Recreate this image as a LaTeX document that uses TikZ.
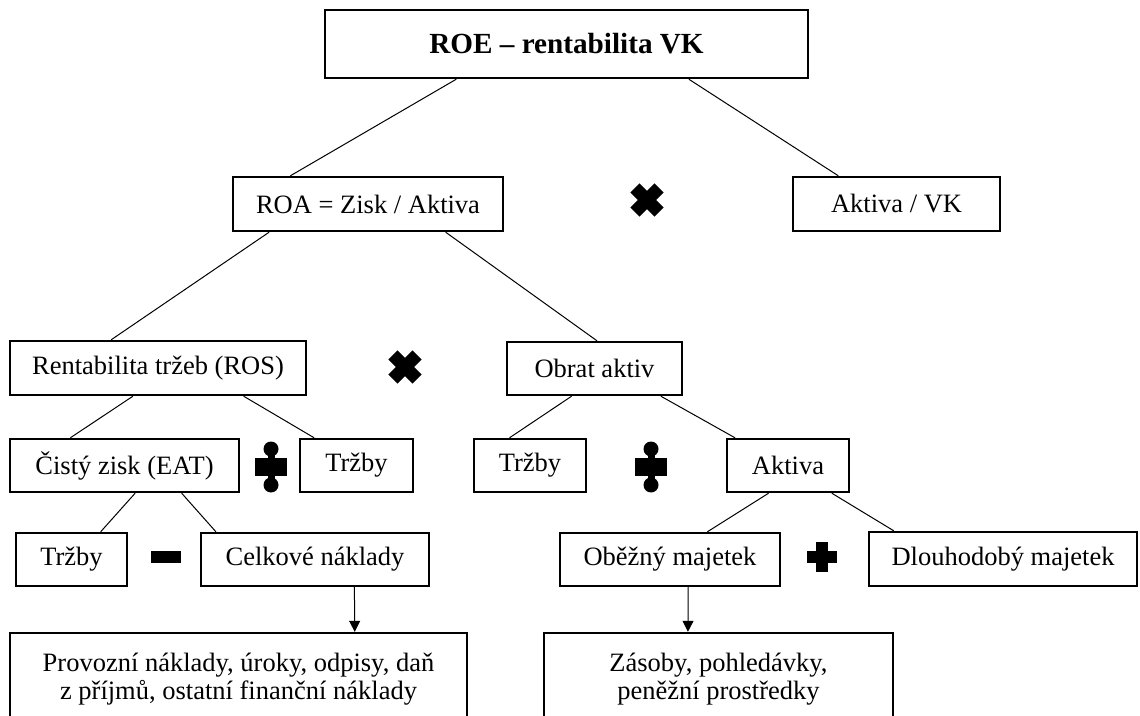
\documentclass[tikz,border=0pt]{standalone}
\usepackage{fontspec}
\setmainfont{Liberation Serif}
\usetikzlibrary{calc}
\usetikzlibrary{arrows.meta}

\tikzset{
    box/.style={draw, line width=1.2pt, inner sep=0pt, minimum height=26.5pt,
            align=center, font=\fontsize{13.25}{14}\selectfont},
    link/.style={line width=0.5pt},
    pointer/.style={line width=0.5pt, -{Triangle[length=5.5pt,width=5.5pt]}},
    times/.pic={
            \fill[rotate=45] (-17,-6.5) rectangle (17,6.5);
            \fill[rotate=-45] (-17,-6.5) rectangle (17,6.5);
        },
    plus/.pic={
            \fill (-15,-6) rectangle (15,6);
            \fill (-6,-15) rectangle (6,15);
        },
    minus/.pic={
            \fill (-15,-6) rectangle (15,6);
        },
    divide/.pic={
            \fill (-16,-9) rectangle (16,9);
            \fill (-3.5,-17) rectangle (3.5,17);
            \fill (0,-18) circle (7.5);
            \fill (0,18) circle (7.5);
        },
}

\begin{document}
\begin{tikzpicture}[x=0.5pt, y=-0.5pt]
        \useasboundingbox (0,0) rectangle (1140,716);
        \clip (0,0) rectangle (1140,716);

        % top level
        \node[box, minimum width=241.5pt, minimum height=34pt,
            font=\fontsize{14.6}{16}\selectfont\bfseries] (roe) at (566.5,44) {ROE – rentabilita VK};
        \node[box, minimum width=135pt, minimum height=27pt] (roa) at (368,204) {ROA = Zisk / Aktiva};
        \node[box, minimum width=103.5pt, minimum height=27pt] (aktvk) at (896.5,204) {Aktiva / VK};

        % second level
        \node[box, minimum width=148pt, minimum height=27pt] (ros) at (158,368) {Rentabilita tržeb (ROS)};
        \node[box, minimum width=87.5pt] (obrat) at (594.5,368.5) {Obrat aktiv};

        % third level
        \node[box, minimum width=114.5pt] (eat) at (124.5,465.5) {Čistý zisk (EAT)};
        \node[box, minimum width=56.5pt] (trzbyA) at (356.5,465.5) {Tržby};
        \node[box, minimum width=56pt] (trzbyB) at (530,465.5) {Tržby};
        \node[box, minimum width=61pt] (aktiva) at (788,465.5) {Aktiva};

        % fourth level
        \node[box, minimum width=55.5pt] (trzbyC) at (71.5,559.5) {Tržby};
        \node[box, minimum width=114pt] (naklady) at (315,559.5) {Celkové náklady};
        \node[box, minimum width=110pt] (obezny) at (670,559.5) {Oběžný majetek};
        \node[box, minimum width=134pt, minimum height=27pt] (dlouhodoby) at (1003,559) {Dlouhodobý majetek};

        % bottom boxes
        \node[box, minimum width=228.5pt, minimum height=46pt] (provozni) at (238.5,679)
            {Provozní náklady, úroky, odpisy, daň\\z příjmů, ostatní finanční náklady};
        \node[box, minimum width=174.5pt, minimum height=46pt] (zasoby) at (718.5,679)
            {Zásoby, pohledávky,\\peněžní prostředky};

        % operators
        \pic at (647,200) {times};
        \pic at (405,367) {times};
        \pic at (271,467) {divide};
        \pic at (651,467) {divide};
        \pic at (166,557) {minus};
        \pic at (822,557) {plus};

        % connectors
        \draw[link] ($(roe.south west)!.273!(roe.south east)$) -- ($(roa.north west)!.215!(roa.north east)$);
        \draw[link] ($(roe.south west)!.752!(roe.south east)$) -- ($(aktvk.north west)!.222!(aktvk.north east)$);
        \draw[link] ($(roa.south west)!.137!(roa.south east)$) -- ($(ros.north west)!.343!(ros.north east)$);
        \draw[link] ($(roa.south west)!.785!(roa.south east)$) -- ($(obrat.north west)!.514!(obrat.north east)$);
        \draw[link] ($(ros.south west)!.416!(ros.south east)$) -- ($(eat.north west)!.266!(eat.north east)$);
        \draw[link] ($(ros.south west)!.787!(ros.south east)$) -- ($(trzbyA.north west)!.133!(trzbyA.north east)$);
        \draw[link] ($(obrat.south west)!.371!(obrat.south east)$) -- ($(trzbyB.north west)!.321!(trzbyB.north east)$);
        \draw[link] ($(obrat.south west)!.874!(obrat.south east)$) -- ($(aktiva.north west)!.074!(aktiva.north east)$);
        \draw[link] ($(eat.south west)!.546!(eat.south east)$) -- ($(trzbyC.north west)!.757!(trzbyC.north east)$);
        \draw[link] ($(eat.south west)!.747!(eat.south east)$) -- ($(naklady.north west)!.070!(naklady.north east)$);
        \draw[link] ($(aktiva.south west)!.344!(aktiva.south east)$) -- ($(obezny.north west)!.668!(obezny.north east)$);
        \draw[link] ($(aktiva.south west)!.852!(aktiva.south east)$) -- ($(dlouhodoby.north west)!.096!(dlouhodoby.north east)$);
        \draw[pointer] ($(naklady.south west)!.671!(naklady.south east)$) -- ($(provozni.north west)!.753!(provozni.north east)$);
        \draw[pointer] ($(obezny.south west)!.582!(obezny.south east)$) -- ($(zasoby.north west)!.413!(zasoby.north east)$);
    \end{tikzpicture}
\end{document}
